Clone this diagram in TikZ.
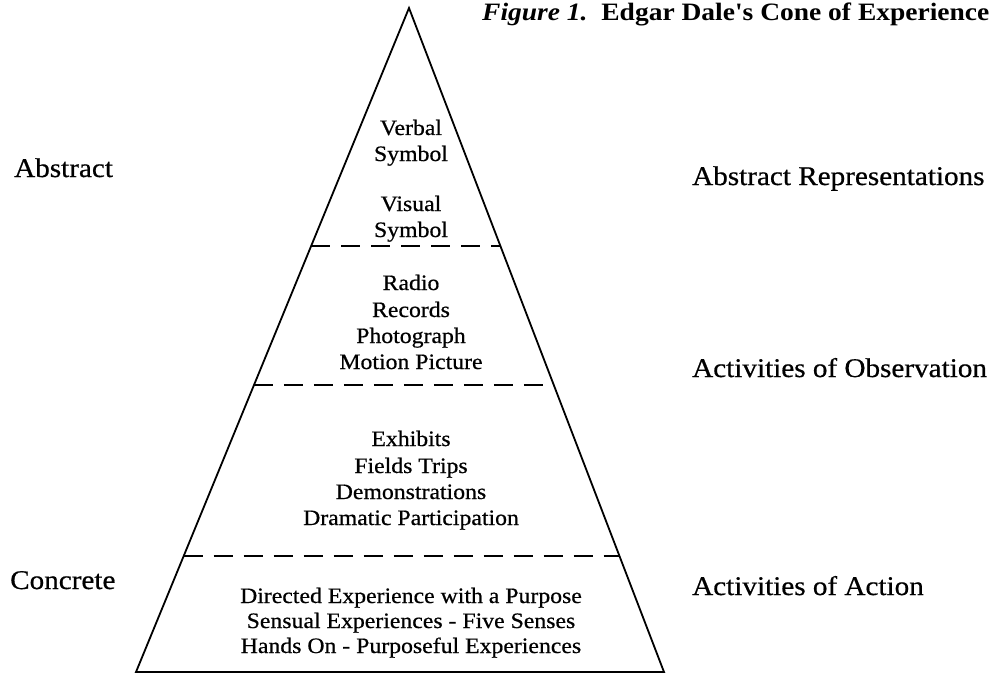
\documentclass[tikz,border=0pt]{standalone}
\usepackage{fontspec}
\setmainfont{Liberation Serif}[FakeStretch=1.08, FakeBold=0.6]
\newfontfamily\titlefont{Liberation Serif}[FakeStretch=1.1]
\usetikzlibrary{calc}
\tikzset{
  inner/.style={font=\fontsize{22}{26}\selectfont, anchor=base, inner sep=0pt},
  side/.style={font=\fontsize{27}{31}\selectfont, anchor=base west, inner sep=0pt},
  titlestyle/.style={font=\titlefont\fontsize{25}{29}\selectfont\bfseries, anchor=base west, inner sep=0pt},
  cone/.style={line width=1.8pt, line join=miter},
  divider/.style={line width=2.6pt, dash pattern=on 19pt off 11pt},
}
\begin{document}
\begin{tikzpicture}[x=1pt, y=-1pt]
\useasboundingbox (0,0) rectangle (998,674);
% cone
\coordinate (apex) at (409,8);
\coordinate (bl) at (136,672);
\coordinate (br) at (664,672);
\draw[cone] (bl) -- (apex) -- (br) -- cycle;
% dividers
\coordinate (d1l) at ($(apex)!0.3584!(bl)$);
\coordinate (d1r) at ($(apex)!0.3584!(br)$);
\coordinate (d2l) at ($(apex)!0.5678!(bl)$);
\coordinate (d2r) at ($(apex)!0.5678!(br)$);
\coordinate (d3l) at ($(apex)!0.8253!(bl)$);
\coordinate (d3r) at ($(apex)!0.8253!(br)$);
\draw[divider] (d1l) -- (d1r);
\draw[divider] (d2l) -- (d2r);
\draw[divider] (d3l) -- (d3r);
% title
\node[titlestyle] (title) at (482,21) {\textit{Figure 1.}\ \ Edgar Dale's Cone of Experience};
% band 1
\node[inner] (verbal) at (411,135) {Verbal};
\node[inner] (verbalsym) at (411,161) {Symbol};
\node[inner] (visual) at (411,211) {Visual};
\node[inner] (visualsym) at (411,237) {Symbol};
% band 2
\node[inner] (radio) at (411,290) {Radio};
\node[inner] (records) at (411,317) {Records};
\node[inner] (photo) at (411,343) {Photograph};
\node[inner] (motion) at (411,369) {Motion Picture};
% band 3
\node[inner] (exhibits) at (411,446) {Exhibits};
\node[inner] (fields) at (411,473) {Fields Trips};
\node[inner] (demo) at (411,499) {Demonstrations};
\node[inner] (drama) at (411,525) {Dramatic Participation};
% band 4
\node[inner] (directed) at (411,603) {Directed Experience with a Purpose};
\node[inner] (sensual) at (411,628) {Sensual Experiences - Five Senses};
\node[inner] (hands) at (411,653) {Hands On - Purposeful Experiences};
% side labels
\node[side] (abstract) at (14,177) {Abstract};
\node[side] (concrete) at (10,589) {Concrete};
\node[side] (absrep) at (692,185) {Abstract Representations};
\node[side] (obs) at (692,377) {Activities of Observation};
\node[side] (act) at (692,595) {Activities of Action};
\end{tikzpicture}
\end{document}
